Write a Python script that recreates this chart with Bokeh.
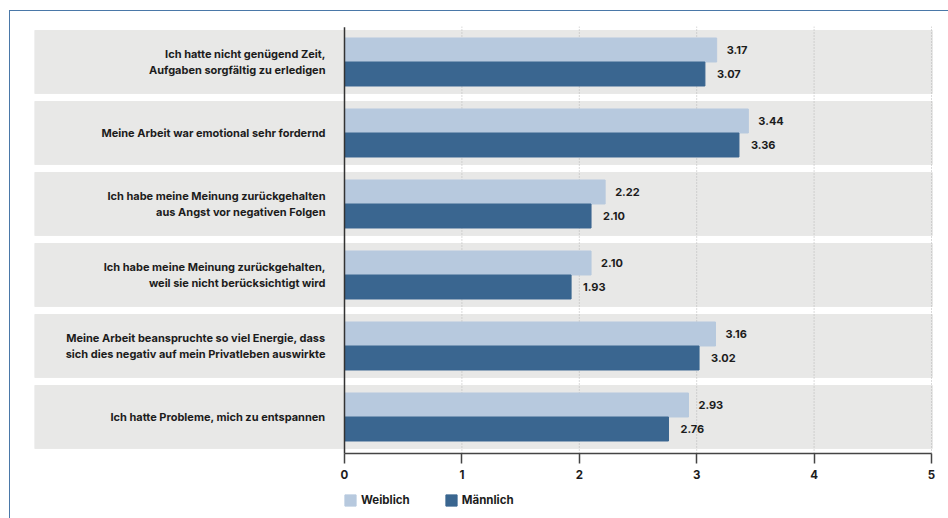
from bokeh.plotting import figure
from bokeh.models import (Range1d, Legend, LegendItem, ColumnDataSource,
                          InlineStyleSheet)
from bokeh.transform import dodge
from bokeh.core.properties import value
from bokeh.embed import file_html
from bokeh.resources import INLINE

# ---------------- data ----------------
categories = [
    "Ich hatte nicht genügend Zeit,\nAufgaben sorgfältig zu erledigen",
    "Meine Arbeit war emotional sehr fordernd",
    "Ich habe meine Meinung zurückgehalten\naus Angst vor negativen Folgen",
    "Ich habe meine Meinung zurückgehalten,\nweil sie nicht berücksichtigt wird",
    "Meine Arbeit beanspruchte so viel Energie, dass\nsich dies negativ auf mein Privatleben auswirkte",
    "Ich hatte Probleme, mich zu entspannen",
]
weiblich = [3.17, 3.44, 2.22, 2.10, 3.16, 2.93]
maennlich = [3.07, 3.36, 2.10, 1.93, 3.02, 2.76]
series = ["Weiblich", "Männlich"]
x_ticks = [0, 1, 2, 3, 4, 5]

# ---------------- layout ----------------
W, H = 948, 518
FRAME_L, FRAME_R, FRAME_T, FRAME_B = 34, 946, 26, 518
BAND_R_PX = 932
ZERO_PX, MAX_PX = 344, 931
ppu = (MAX_PX - ZERO_PX) / (x_ticks[-1] - x_ticks[0])
x_start = x_ticks[0] - (ZERO_PX - FRAME_L) / ppu
x_end = x_ticks[-1] + (FRAME_R - MAX_PX) / ppu
band_right = x_ticks[-1] + (BAND_R_PX - MAX_PX) / ppu

ROW_PX = 71.0                      # pixels per category slot
y_top = -0.5                       # slot edge at frame top
y_bottom = y_top + (FRAME_B - FRAME_T) / ROW_PX
AXIS_PX = 453
y_axis = y_top + (AXIS_PX - FRAME_T) / ROW_PX

FONT = "Inter"
TXT = "#1c1c1c"
LIGHT = "#b7c9de"
DARK = "#3a6690"
BAND = "#e8e8e7"

p = figure(width=W, height=H,
           y_range=Range1d(y_bottom, y_top),
           x_range=Range1d(x_start, x_end),
           output_backend="svg", toolbar_location=None,
           y_axis_location=None,
           min_border_left=FRAME_L, min_border_right=W - FRAME_R,
           min_border_top=FRAME_T, min_border_bottom=H - FRAME_B)
p.outline_line_color = None
p.background_fill_color = "white"
p.border_fill_color = "white"
p.grid.visible = False

idx = list(range(len(categories)))
src = ColumnDataSource(dict(
    y=idx,
    cat=categories,
    w=weiblich,
    m=maennlich,
    wl=[f"{v:.2f}" for v in weiblich],
    ml=[f"{v:.2f}" for v in maennlich],
))

# background bands
p.hbar(y="y", left=x_start, right=band_right, height=0.885, color=BAND, source=src)

# dotted vertical grid lines (tick positions), ending at the axis
p.segment(x0=x_ticks[1:], x1=x_ticks[1:], y0=y_top, y1=y_axis,
          line_color="#b5b5b5", line_dash="1 2", line_width=1)

# bars
off = 0.169
bh = 0.338
rw = p.hbar(y=dodge("y", -off), left=0, right="w",
            height=bh, color=LIGHT, source=src)
rm = p.hbar(y=dodge("y", off), left=0, right="m",
            height=bh, color=DARK, source=src)

# zero line
p.segment(x0=x_ticks[0], x1=x_ticks[0], y0=y_top + 0.01, y1=y_axis,
          line_color="#333333", line_width=1.5)

# value labels
common = dict(text_font=value(FONT), text_font_style="bold",
              text_font_size="11px", text_color=TXT,
              text_baseline="middle", source=src)
p.text(x="w", y=dodge("y", -off), text="wl", x_offset=10, **common)
p.text(x="m", y=dodge("y", off), text="ml", x_offset=12, **common)

# category labels
p.text(x=0, y="y", text="cat", x_offset=-19, text_align="right",
       text_baseline="middle", line_height=1.2,
       text_font=value(FONT), text_font_style="bold",
       text_font_size="11px", text_color=TXT, source=src)

# x axis (fixed inside the frame)
ax = p.xaxis[0]
ax.fixed_location = y_axis
ax.ticker = x_ticks
ax.bounds = (x_ticks[0], x_ticks[-1])
ax.axis_line_color = "#444444"
ax.axis_line_width = 1.5
ax.major_tick_line_color = "#444444"
ax.major_tick_line_width = 1.5
ax.major_tick_out = 10
ax.major_tick_in = 0
ax.minor_tick_line_color = None
ax.major_label_text_font = FONT
ax.major_label_text_font_style = "bold"
ax.major_label_text_font_size = "11.5px"
ax.major_label_text_color = TXT
ax.major_label_standoff = 6

# legend
legend = Legend(items=[LegendItem(label=series[0], renderers=[rw]),
                       LegendItem(label=series[1], renderers=[rm])],
                orientation="horizontal",
                location=(ZERO_PX - FRAME_L - 1, FRAME_B - 507),
                glyph_width=14, glyph_height=14, label_standoff=4,
                spacing=34, padding=0, margin=0,
                border_line_color=None, background_fill_alpha=0,
                label_text_font=FONT, label_text_font_style="bold",
                label_text_font_size="11.5px", label_text_color=TXT,
                label_height=14)
p.add_layout(legend, "center")

# outer frame line (top + left) drawn by CSS
p.stylesheets = [InlineStyleSheet(css="""
:host::after {
  content: ""; position: absolute; left: 9px; top: 10px; right: 0; bottom: 0;
  border-top: 1.5px solid #4a78a8; border-left: 1.5px solid #4a78a8;
  pointer-events: none; z-index: 100;
}
""")]

open("out.html", "w").write(file_html(p, INLINE))
